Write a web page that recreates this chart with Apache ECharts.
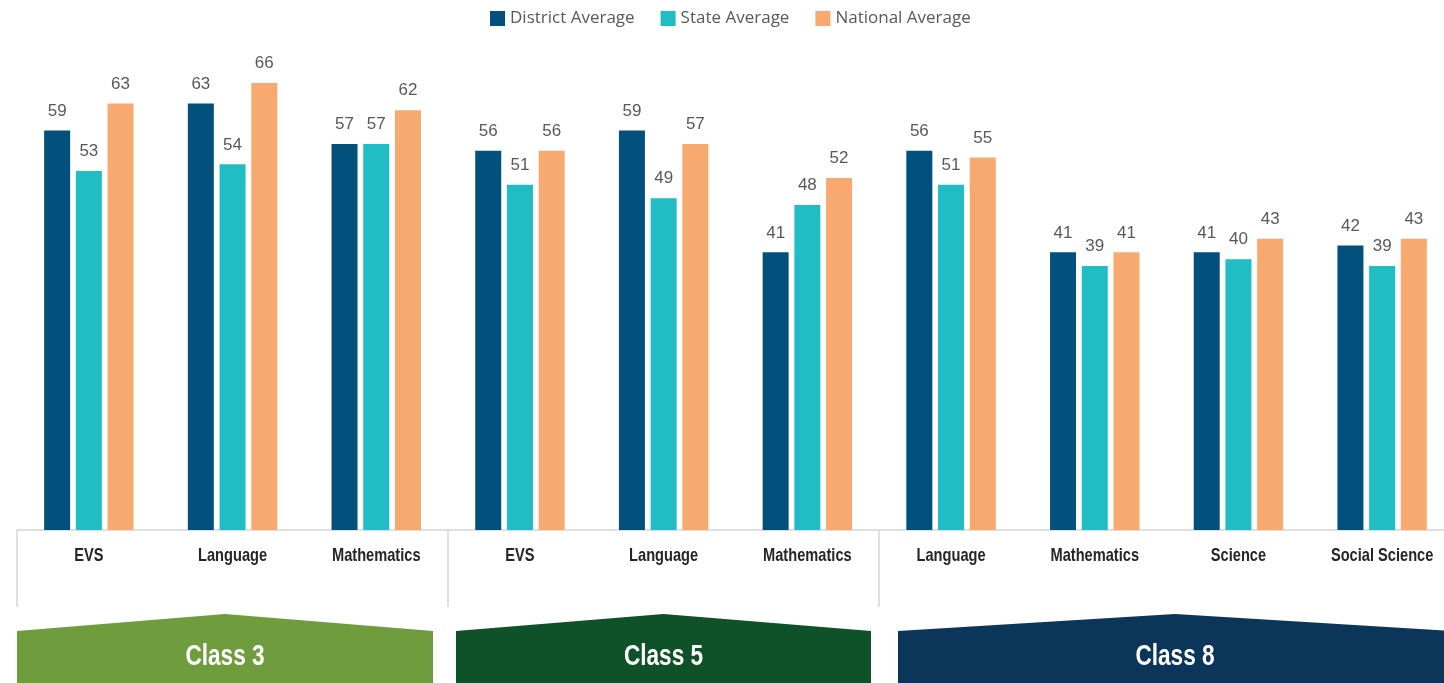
<!DOCTYPE html>
<html>
<head>
<meta charset="utf-8">
<title>District / State / National averages</title>
<script src="https://cdn.jsdelivr.net/npm/echarts@6/dist/echarts.min.js"></script>
<style>
  html, body { margin: 0; padding: 0; background: #fff; }
  #container { width: 1444px; height: 683px; }
</style>
</head>
<body>
<div id="container"></div>
<script>
var subjects = ['EVS', 'Language', 'Mathematics', 'EVS', 'Language', 'Mathematics',
    'Language', 'Mathematics', 'Science', 'Social Science'];
var classNames = ['Class 3', 'Class 5', 'Class 8'];
var seriesNames = ['District Average', 'State Average', 'National Average'];
var districtAvg = [59, 63, 57, 56, 59, 41, 56, 41, 41, 42];
var stateAvg = [53, 54, 57, 51, 49, 48, 51, 39, 40, 39];
var nationalAvg = [63, 66, 62, 56, 57, 52, 55, 41, 43, 43];
var groupStarts = [0, 3, 6];

var colors = ['#02517d', '#20bdc4', '#f8a96f'];
var bannerColors = ['#6f9c3d', '#0f5128', '#0b3559'];
var sans = '"Liberation Sans", Arial, sans-serif';

var dom = document.getElementById('container');
var myChart = echarts.init(dom);

function makeSeries(name, values, color) {
    return {
        name: name,
        type: 'bar',
        barWidth: 26,
        barGap: '22%',
        itemStyle: { color: color },
        label: {
            show: true,
            position: 'top',
            distance: 11,
            color: '#595959',
            fontFamily: sans,
            fontSize: 17
        },
        data: values
    };
}

// pentagon banners under each class group
function banner(x0, x1, color, text) {
    var mid = (x0 + x1) / 2;
    return {
        type: 'group',
        children: [{
            type: 'polygon',
            shape: { points: [[x0, 631], [mid, 614], [x1, 631], [x1, 683], [x0, 683]] },
            style: { fill: color }
        }, {
            type: 'text',
            x: mid,
            y: 657,
            scaleX: 0.78,
            style: {
                text: text,
                fill: '#fff',
                font: 'bold 29px ' + sans,
                textAlign: 'center',
                textVerticalAlign: 'middle'
            }
        }]
    };
}

var option = {
    animation: false,
    color: colors,
    legend: {
        left: 485,
        top: 5,
        itemWidth: 15,
        itemHeight: 15,
        itemGap: 26,
        icon: 'rect',
        textStyle: { color: '#595959', fontFamily: '"Open Sans", sans-serif', fontSize: 17 },
        data: seriesNames
    },
    // the last group runs past the right edge of the page
    grid: { left: 17, width: 1437, top: 56, bottom: 153, containLabel: false, outerBoundsMode: 'none' },
    xAxis: {
        type: 'category',
        data: subjects,
        axisLine: { lineStyle: { color: '#d6d6d6', width: 1.5 } },
        axisTick: {
            show: true,
            length: 77,
            interval: function (index) { return groupStarts.indexOf(index) >= 0; },
            lineStyle: { color: '#d6d6d6', width: 1.5 }
        },
        // labels are drawn below as condensed graphic text
        axisLabel: { show: false }
    },
    yAxis: {
        type: 'value',
        min: 0,
        max: 70,
        show: false,
        splitLine: { show: false }
    },
    series: [
        makeSeries(seriesNames[0], districtAvg, colors[0]),
        makeSeries(seriesNames[1], stateAvg, colors[1]),
        makeSeries(seriesNames[2], nationalAvg, colors[2])
    ]
};
myChart.setOption(option, true);

// category names placed from the axis scale, squeezed to look condensed
var graphics = [
    banner(17, 433, bannerColors[0], classNames[0]),
    banner(456, 871, bannerColors[1], classNames[1]),
    banner(898, 1452, bannerColors[2], classNames[2])
];
subjects.forEach(function (s, i) {
    var x = myChart.convertToPixel({ xAxisIndex: 0 }, i);
    graphics.push({
        type: 'text',
        x: x,
        y: 556,
        scaleX: 0.77,
        style: {
            text: s,
            fill: '#262626',
            font: 'bold 19px ' + sans,
            textAlign: 'center',
            textVerticalAlign: 'middle'
        }
    });
});
myChart.setOption({ graphic: graphics });
</script>
</body>
</html>
